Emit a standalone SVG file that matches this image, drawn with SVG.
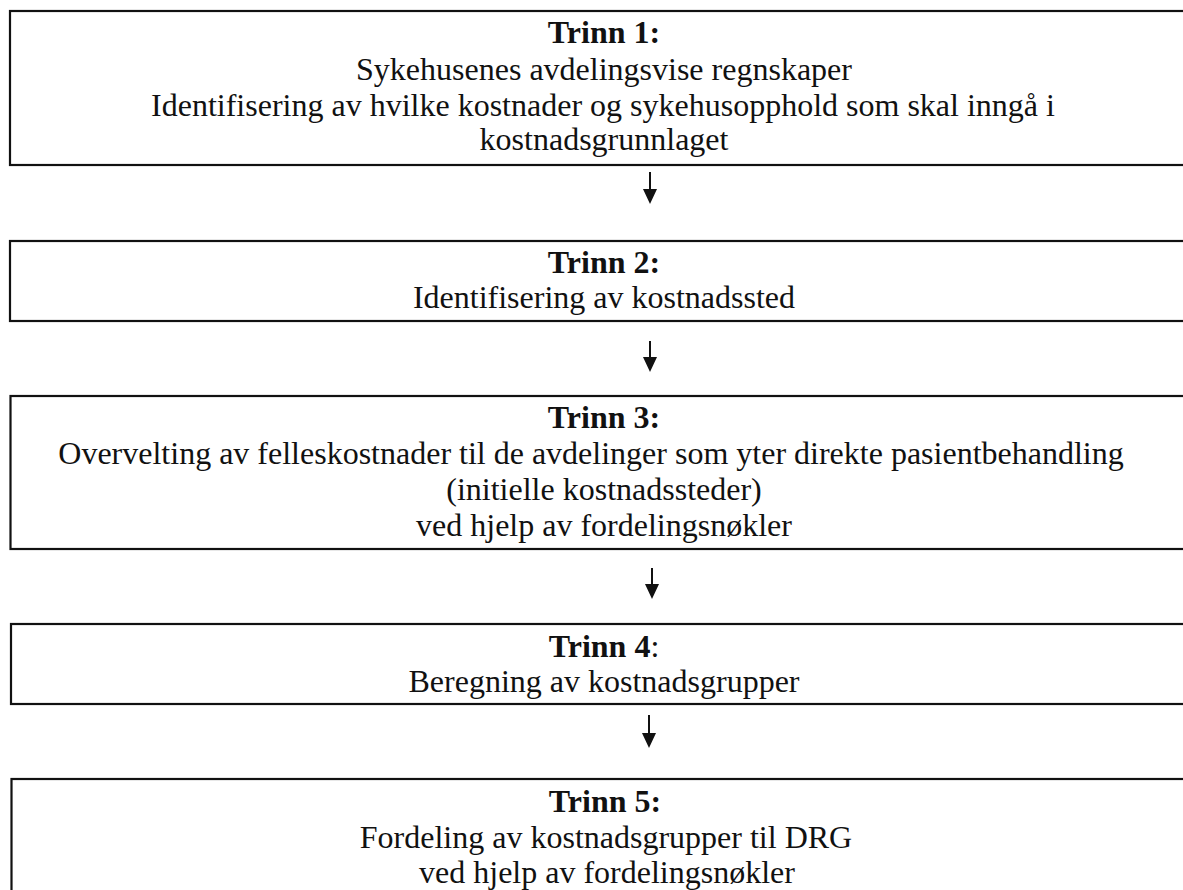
<svg xmlns="http://www.w3.org/2000/svg" width="1183" height="890" viewBox="0 0 1183 890">
<style>
.box{fill:#fff;stroke:#111;stroke-width:2.2}
text{font-family:"Liberation Serif","Times New Roman",serif;font-size:32px;fill:#111;text-anchor:middle}
.b{font-weight:bold}
.c{stroke:#111;stroke-width:2;fill:none}
.h{fill:#111}
</style>
<rect width="1183" height="890" fill="#fff"/>
<g id="node1">
<rect class="box" x="10" y="11" width="1185" height="154"/>
<text x="604" y="43" class="b">Trinn 1:</text>
<text x="604" y="80">Sykehusenes avdelingsvise regnskaper</text>
<text x="603" y="116">Identifisering av hvilke kostnader og sykehusopphold som skal inngå i</text>
<text x="604" y="150">kostnadsgrunnlaget</text>
</g>
<g id="node2">
<rect class="box" x="10" y="241" width="1185" height="80"/>
<text x="604" y="273" class="b">Trinn 2:</text>
<text x="604" y="308">Identifisering av kostnadssted</text>
</g>
<g id="node3">
<rect class="box" x="10.5" y="396" width="1185" height="153"/>
<text x="604" y="428" class="b">Trinn 3:</text>
<text x="591" y="464">Overvelting av felleskostnader til de avdelinger som yter direkte pasientbehandling</text>
<text x="604" y="500">(initielle kostnadssteder)</text>
<text x="604" y="536">ved hjelp av fordelingsnøkler</text>
</g>
<g id="node4">
<rect class="box" x="11" y="624" width="1185" height="80"/>
<text x="604" y="657"><tspan class="b">Trinn 4</tspan>:</text>
<text x="604" y="692">Beregning av kostnadsgrupper</text>
</g>
<g id="node5">
<rect class="box" x="11.5" y="779" width="1185" height="130"/>
<text x="605" y="812" class="b">Trinn 5:</text>
<text x="606" y="848">Fordeling av kostnadsgrupper til DRG</text>
<text x="607" y="883">ved hjelp av fordelingsnøkler</text>
</g>
<g id="connectors">
<line class="c" x1="650" y1="172" x2="650" y2="192"/>
<path class="h" d="M643 189 L657 189 L650 204 Z"/>
<line class="c" x1="650" y1="341" x2="650" y2="360"/>
<path class="h" d="M643 357 L657 357 L650 372 Z"/>
<line class="c" x1="652" y1="568" x2="652" y2="587"/>
<path class="h" d="M645 584 L659 584 L652 599 Z"/>
<line class="c" x1="649" y1="715" x2="649" y2="736"/>
<path class="h" d="M642 733 L656 733 L649 748 Z"/>
</g>
</svg>
